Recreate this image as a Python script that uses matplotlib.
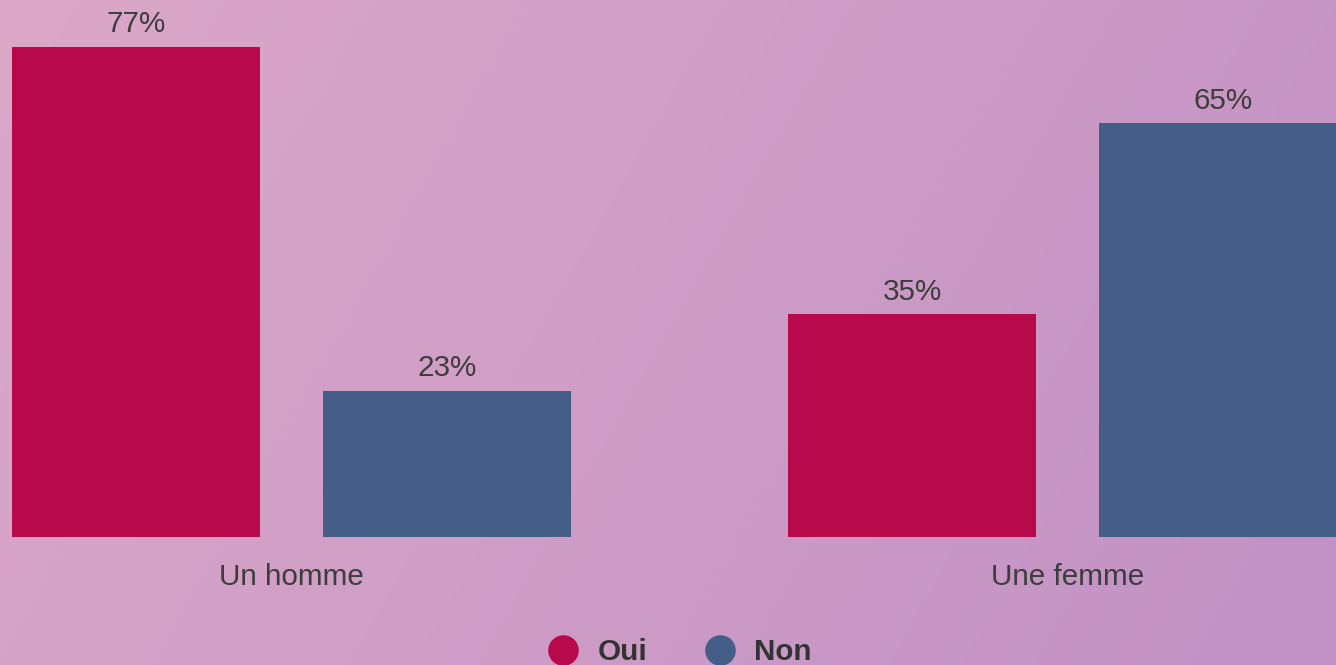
import numpy as np
import matplotlib
matplotlib.use("Agg")
import matplotlib.pyplot as plt
from matplotlib.lines import Line2D

categories = ["Un homme", "Une femme"]
series_names = ["Oui", "Non"]
oui_values = [77, 35]
non_values = [23, 65]
colors = ["#b8094a", "#445e87"]

W, H = 1336, 665
fig = plt.figure(figsize=(W / 100, H / 100), dpi=100)

# gradient background
bg = fig.add_axes([0, 0, 1, 1])
xx, yy = np.meshgrid(np.linspace(0, 1, 300), np.linspace(0, 1, 150))
t = 0.78 * xx + 0.22 * yy
c0 = np.array([219, 168, 200]) / 255
c1 = np.array([193, 145, 196]) / 255
img = c0[None, None, :] * (1 - t[..., None]) + c1[None, None, :] * t[..., None]
bg.imshow(img, aspect="auto", extent=[0, 1, 1, 0])
bg.set_axis_off()

ax = fig.add_axes([0, 0, 1, 1])
ax.set_facecolor("none")
px_per_unit_x = 776.0
x0_px = 291.5
ax.set_xlim(-x0_px / px_per_unit_x, (W - x0_px) / px_per_unit_x)
px_per_val = 6.364
base_px = 537
ax.set_ylim(-(H - base_px) / px_per_val, base_px / px_per_val)
ax.set_axis_off()

x = np.arange(len(categories))
width = 248 / px_per_unit_x
off = 155.5 / px_per_unit_x
font = "Liberation Sans"
txtc = "#3d3d3d"
fs = 21.3

for vals, dx, col in [(oui_values, -off, colors[0]), (non_values, off, colors[1])]:
    ax.bar(x + dx, vals, width=width, color=col, zorder=2)
    for xi, v in zip(x + dx, vals):
        ax.annotate(f"{v}%", (xi, v), xytext=(0, 10.5), textcoords="offset points",
                    ha="center", va="baseline", fontsize=fs, color=txtc, family=font)

for xi, c in zip(x, categories):
    ax.annotate(c, (xi, 0), xytext=(0, -(585 - base_px) * 0.72), textcoords="offset points",
                ha="center", va="baseline", fontsize=fs, color=txtc, family=font)

handles = [Line2D([], [], marker="o", linestyle="none", markersize=21,
                  markerfacecolor=c, markeredgecolor=c) for c in colors]
leg = fig.legend(handles, series_names, loc="center", bbox_to_anchor=(680 / W, 1 - 652 / H),
                 ncol=2, frameon=False, handlelength=1.0, handletextpad=0.67,
                 columnspacing=1.95,
                 prop={"family": font, "weight": "bold", "size": fs})
for t_ in leg.get_texts():
    t_.set_color("#333333")

fig.savefig("out.png", dpi=100)
